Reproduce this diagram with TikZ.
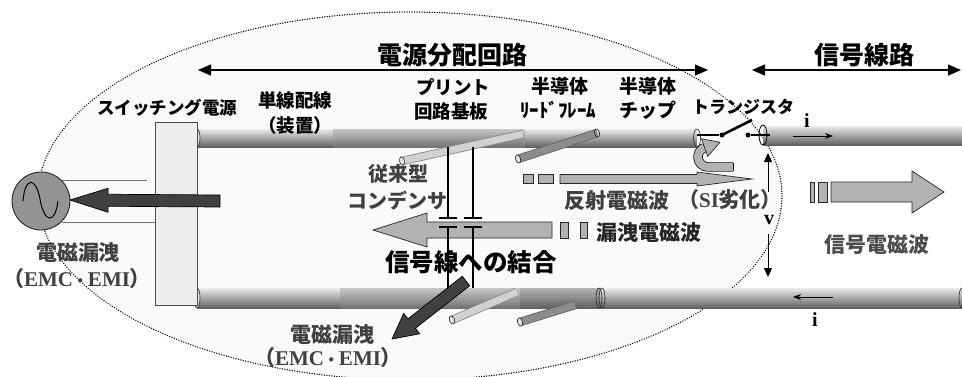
\documentclass[tikz,border=0pt]{standalone}
\usepackage{fontspec}
\setmainfont{Liberation Serif}
\newfontfamily\jp{Noto Sans CJK JP}
\newfontfamily\tms{Liberation Serif}
\usetikzlibrary{calc,arrows.meta}

\newcommand\fs[1]{\fontsize{#1}{#1}\selectfont}
\newcommand\emcemi{{\tms EMC}{\fs{15}・}{\tms EMI}}
% block arrow: #1 style, #2 tail, #3 tip, #4 shaft half width, #5 head half width, #6 head length, #7 name
\newcommand\blockarrow[7]{%
  \coordinate (#7-b) at ($(#3)!#6!(#2)$);
  \path[#1] ($(#2)!#4!90:(#3)$) -- ($(#7-b)!#4!90:(#3)$) -- ($(#7-b)!#5!90:(#3)$)
    -- (#3) -- ($(#7-b)!#5!-90:(#3)$) -- ($(#7-b)!#4!-90:(#3)$) -- ($(#2)!#4!-90:(#3)$) -- cycle;}

\begin{document}
\begin{tikzpicture}[x=1pt,y=-1pt,
  tubeA/.style={top color=black!8, bottom color=black!62},
  tubeB/.style={top color=black!22, bottom color=black!55},
  tubeC/.style={top color=black!30, bottom color=black!62},
  capring/.style={draw=black!85, line width=.6pt, fill=black!12},
  wave/.style={fill=black!30, draw=black!85, line width=.7pt},
  leak/.style={fill=black!75, draw=black, line width=.7pt},
  jl/.style={inner sep=0pt, text=black},
  gl/.style={inner sep=0pt, text=black!75},
  dim/.style={line width=1.3pt, {Triangle[length=13pt,width=11pt]}-{Triangle[length=13pt,width=11pt]}},
  meas/.style={line width=.8pt, -{Triangle[length=9pt,width=8pt]}},
  cur/.style={line width=.7pt, -{Stealth[length=8pt,width=6pt]}},
  wire/.style={line width=1.1pt},
  brout/.style={line width=8.5pt, draw=black!60},
  brlight/.style={line width=6.8pt, draw=black!25},
  brdark/.style={line width=6.8pt, draw=black!45},
  feed/.style={line width=.8pt, draw=black!55},
  dot/.style={circle, fill=black, inner sep=0pt, minimum size=5pt},
  sym/.style={inner sep=0pt, font=\tms\bfseries\fs{20}}
]
\useasboundingbox (0,0) rectangle (962,376);

% power distribution region
\fill[black!2] (410,196) ellipse (372 and 184);
\draw[line width=1.4pt, dash pattern=on .1pt off 2.4pt, line cap=round] (410,196) ellipse (372 and 184);

% feed lines from the source
\coordinate (f1a) at (62,180); \coordinate (f1b) at (147,180);
\coordinate (f2a) at (62,222); \coordinate (f2b) at (155,222);
\draw[feed] (f1a) -- (f1b);
\draw[feed] (f2a) -- (f2b);

% upper conductor
\fill[tubeA] (197,129) rectangle (333,147);
\fill[tubeB] (333,129) rectangle (525,147);
\fill[tubeA] (525,129) rectangle (697,147);
\fill[tubeA] (763,126) rectangle (962,145);
% lower conductor
\fill[tubeA] (197,288) rectangle (340,308);
\fill[tubeB] (340,288) rectangle (520,308);
\fill[tubeC] (520,288) rectangle (600,308);
\fill[tubeA] (600,288) rectangle (962,308);

% tube ends
\draw[capring] (197,138) ellipse (3 and 9);
\draw[capring, fill=none] (697,138) ellipse (3.5 and 9);
\draw[capring] (197,298) ellipse (3 and 10);
\draw[capring, fill=none] (599,298) ellipse (3 and 10);
\draw[capring, fill=none] (602,298) ellipse (3 and 10);
\draw[capring, fill=none] (962,298) ellipse (3 and 10);

% branch leads
\coordinate (ba1) at (402,161); \coordinate (ba2) at (523,134);
\coordinate (bb1) at (518,159); \coordinate (bb2) at (597,133);
\coordinate (bc1) at (452,320); \coordinate (bc2) at (517,292);
\coordinate (bd1) at (520,322); \coordinate (bd2) at (575,305);
\draw[brout, draw=black!45] (ba1) -- (ba2);
\draw[brlight, draw=black!18] (ba1) -- (ba2);
\draw[brout] (bb1) -- (bb2);
\draw[brdark] (bb1) -- (bb2);
\draw[brout, draw=black!45] (bc1) -- (bc2);
\draw[brlight, draw=black!18] (bc1) -- (bc2);
\draw[brout] (bd1) -- (bd2);
\draw[brdark] (bd1) -- (bd2);
\draw[capring, rotate around={13:(ba1)}] (ba1) ellipse (2.5 and 4.3);
\draw[capring, rotate around={18:(bb1)}] (bb1) ellipse (2.5 and 4.3);
\draw[capring, fill=none, rotate around={18:(bb2)}] (bb2) ellipse (2.5 and 4.3);
\draw[capring, rotate around={23:(bc1)}] (bc1) ellipse (2.5 and 4.3);
\draw[capring, rotate around={17:(bd1)}] (bd1) ellipse (2.5 and 4.3);

% switching power supply
\node[draw=black!70, line width=.7pt, fill=black!7, minimum width=42pt, minimum height=183pt, inner sep=0pt] (psu) at (176,213.5) {};

% AC source
\node[circle, draw=black!85, line width=.9pt, fill=black!42, minimum size=58pt, inner sep=0pt] (src) at (41,201) {};
\draw[line width=1pt] (23,201) .. controls (25,176) and (36,177) .. (40,199) .. controls (44,223) and (55,225) .. (58,201);

% leakage wave toward the signal line
\blockarrow{wave}{552,230}{373,230}{8pt}{17pt}{54pt}{lw}
\node[wave, minimum width=8pt, minimum height=16pt, inner sep=0pt] (lw1) at (564,230) {};
\node[wave, minimum width=7pt, minimum height=16pt, inner sep=0pt] (lw2) at (583.5,230) {};

% reflected wave
\blockarrow{wave}{560,179}{752,179}{4.5pt}{7pt}{55pt}{rw}
\node[wave, minimum width=10pt, minimum height=9pt, inner sep=0pt] (rw1) at (528,179) {};
\node[wave, minimum width=15pt, minimum height=9pt, inner sep=0pt] (rw2) at (545.5,179) {};

% signal wave
\blockarrow{wave}{831,192}{944,192}{10pt}{21pt}{32pt}{sw}
\node[wave, minimum width=4pt, minimum height=20pt, inner sep=0pt] (sw1) at (812,192) {};
\node[wave, minimum width=9pt, minimum height=20pt, inner sep=0pt] (sw2) at (822.5,192) {};

% decoupling capacitors
\foreach \x/\n in {448/ca,473/cb}{
  \coordinate (\n-t) at (\x,147); \coordinate (\n-p) at (\x,218);
  \coordinate (\n-q) at (\x,227); \coordinate (\n-b) at (\x,288);
  \draw[wire] (\n-t) -- (\n-p);
  \draw[wire] (\n-q) -- (\n-b);
  \draw[line width=1.6pt] ($(\n-p)+(-9,0)$) -- ($(\n-p)+(9,0)$);
  \draw[line width=1.6pt] ($(\n-q)+(-9,0)$) -- ($(\n-q)+(9,0)$);
}

% return of the reflected wave at the transistor
\draw[double=black!30, double distance=8pt, line width=.7pt] (733,167) -- (708,167) arc[start angle=90, end angle=250, radius=10];
\draw[line width=.7pt] (733,162.6) -- (733,171.4);
\fill[black!30, draw=black!85, line width=.7pt, line join=round] (701.5,138.8) -- (720,142.2) -- (707.7,156.4) -- cycle;

% transistor switch
\node[dot] (sw-a) at (722,135) {};
\node[dot] (sw-b) at (748,135) {};
\coordinate (sw-l) at (697,135); \coordinate (sw-r) at (770,135); \coordinate (sw-e) at (752,120);
\draw[wire] (sw-l) -- (sw-a);
\draw[line width=2.6pt] (sw-a.center) -- (sw-e);
\draw[wire] (sw-b) -- (sw-r);
\draw[line width=.8pt] (763,135) ellipse (4 and 10);

% current and voltage
\coordinate (i1a) at (793,136); \coordinate (i1b) at (833,136);
\draw[cur] (i1a) -- (i1b);
\node[sym] (i1) at (807,121) {i};
\coordinate (i2a) at (833,297); \coordinate (i2b) at (793,297);
\draw[cur] (i2a) -- (i2b);
\node[sym] (i2) at (815,320) {i};
\node[sym] (v) at (769,220) {v};
\coordinate (v-t) at (768,153); \coordinate (v-b) at (768,277);
\draw[meas] (768,192) -- (v-t);
\draw[meas] (768,234) -- (v-b);

% section extents
\coordinate (pd-l) at (198,70); \coordinate (pd-r) at (708,70);
\coordinate (sl-l) at (752,70); \coordinate (sl-r) at (961,70);
\draw[dim] (pd-l) -- (pd-r);
\draw[dim] (sl-l) -- (sl-r);

% radiated leakage
\blockarrow{leak}{220,201}{70,200}{6pt}{12pt}{38pt}{la}
\blockarrow{leak}{466,281}{392,339}{6pt}{13pt}{25pt}{lb}

% labels
\node[jl, font=\jp\bfseries\fs{25}] (t1) at (452,55) {電源分配回路};
\node[jl, font=\jp\bfseries\fs{25}] (t2) at (864,55) {信号線路};
\node[jl, font=\jp\bfseries\fs{17.5}] (l1) at (167,108) {スイッチング電源};
\node[jl, font=\jp\bfseries\fs{18.5}] (l2) at (295,100) {単線配線};
\node[jl, font=\jp\bfseries\fs{18.5}] (l2b) at (295,125) {（装置）};
\node[jl, font=\jp\bfseries\fs{18.5}] (l3) at (453,87) {プリント};
\node[jl, font=\jp\bfseries\fs{18.5}] (l3b) at (451,112) {回路基板};
\node[jl, font=\jp\bfseries\fs{19}] (l4) at (560,86) {半導体};
\node[jl, font=\jp\bfseries\fs{19}] (l4b) at (558,110) {ﾘｰﾄﾞﾌﾚｰﾑ};
\node[jl, font=\jp\bfseries\fs{19}] (l5) at (648,86) {半導体};
\node[jl, font=\jp\bfseries\fs{19}] (l5b) at (648,110) {チップ};
\node[jl, font=\jp\bfseries\fs{17}] (l6) at (743,107) {トランジスタ};
\node[gl, font=\jp\bfseries\fs{20}] (c1) at (398,174) {従来型};
\node[gl, font=\jp\bfseries\fs{20}] (c2) at (397,201) {コンデンサ};
\node[gl, font=\jp\bfseries\fs{21}] (r1) at (617,201) {反射電磁波};
\node[gl, font=\jp\bfseries\fs{21}] (r2) at (730,200) {（{\tms SI}劣化）};
\node[gl, font=\jp\bfseries\fs{21}, text=black!85] (k1) at (649,233) {漏洩電磁波};
\node[jl, font=\jp\bfseries\fs{24.5}] (k2) at (471,262) {信号線への結合};
\node[gl, font=\jp\bfseries\fs{21}, text=black!70] (s1) at (877,245) {信号電磁波};
\node[gl, font=\jp\bfseries\fs{21}] (e1) at (78,253) {電磁漏洩};
\node[gl, font=\jp\bfseries\fs{21}] (e1b) at (77,279) {（\emcemi）};
\node[gl, font=\jp\bfseries\fs{21}] (e2) at (332,335) {電磁漏洩};
\node[gl, font=\jp\bfseries\fs{21}] (e2b) at (328,358) {（\emcemi）};
\end{tikzpicture}
\end{document}
